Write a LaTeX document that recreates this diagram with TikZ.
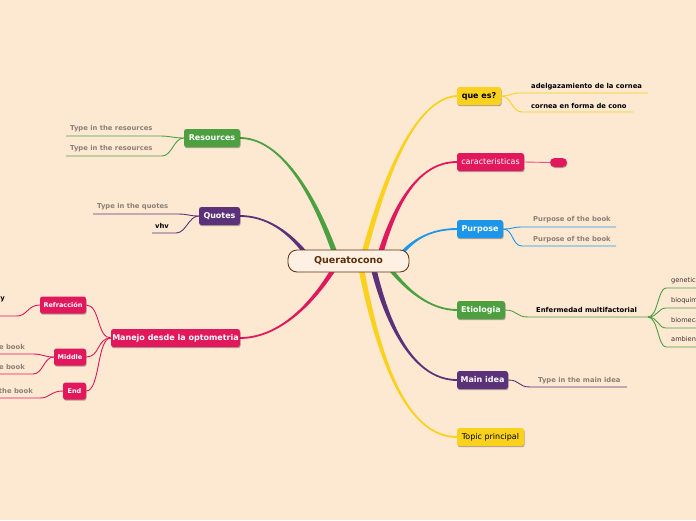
\documentclass[tikz,border=0pt]{standalone}
\usepackage{fontspec}
\setmainfont{DejaVu Sans}
\usetikzlibrary{calc,shadows}
\definecolor{bg}{RGB}{253,232,210}
\definecolor{cream}{RGB}{254,241,227}
\definecolor{brn}{RGB}{92,46,10}
\definecolor{yl}{RGB}{250,209,28}
\definecolor{pk}{RGB}{226,24,92}
\definecolor{bl}{RGB}{28,150,232}
\definecolor{gr}{RGB}{76,160,64}
\definecolor{pu}{RGB}{91,50,122}
\definecolor{gtxt}{RGB}{140,128,118}
\definecolor{dtxt}{RGB}{60,50,45}
% tapered branch: colour, start, c1, c2, end, sign
\newcommand\brch[6]{%
  \fill[#1] ($(#2)+(-2.9,0)$) .. controls ($(#3)+(-2.2,0)$) and ($(#4)+(0,{-1.0*(#6)})$) .. ($(#5)+(0,{-0.9*(#6)})$)
    -- ($(#5)+(0,{0.9*(#6)})$) .. controls ($(#4)+(0,{1.0*(#6)})$) and ($(#3)+(2.2,0)$) .. ($(#2)+(2.9,0)$) -- cycle;}
\tikzset{
  topic/.style={rounded corners=2.5pt, minimum height=18pt, inner sep=0pt,
    font=\fontsize{8}{9}\selectfont\bfseries, text=white,
    drop shadow={shadow xshift=0.6pt, shadow yshift=-1.2pt, opacity=0.3, fill=black}},
  small/.style={topic, minimum height=17pt, font=\fontsize{6.5}{7}\selectfont\bfseries},
  subt/.style={inner sep=0pt, anchor=west, font=\fontsize{6.8}{7.5}\selectfont\bfseries, text=gtxt},
  subr/.style={subt, anchor=east},
  leaf/.style={inner sep=0pt, anchor=west, font=\fontsize{6.6}{7.5}\selectfont, text=dtxt},
  conn/.style={line width=0.9pt},
}
\begin{document}
\begin{tikzpicture}[x=1pt,y=-1pt]
\fill[bg] (0,0) rectangle (696,520);
\useasboundingbox (0,0) rectangle (696,520);

% main branches
\brch{yl}{362,262}{388,160}{420,98}{457,96}{1}
\brch{pk}{378,262}{395,200}{420,162}{457,162}{1}
\brch{bl}{395,262}{410,240}{430,229}{457,229}{1}
\brch{gr}{385,262}{405,290}{430,310}{457,310}{-1}
\brch{pu}{372,262}{390,340}{420,380}{457,380}{-1}
\brch{yl}{360,262}{380,370}{410,437}{457,437}{-1}
\brch{gr}{338,262}{310,180}{275,138}{240,138}{-1}
\brch{pu}{312,262}{290,230}{265,216}{240,216}{-1}
\brch{pk}{338,262}{310,310}{275,338}{240,338}{1}

% central node
\node[draw=brn, line width=0.8pt, fill=cream, rounded corners=9pt, minimum width=121pt,
  minimum height=22pt, inner sep=0pt, font=\fontsize{9.5}{11}\selectfont\bfseries, text=brn]
  (root) at (348.5,261) {Queratocono};

% right topics
\node[topic, fill=yl, text=black, minimum width=44pt] (ques) at (479,96) {que es?};
\node[topic, fill=pk, minimum width=67pt, font=\fontsize{8}{9}\selectfont] (car) at (490.5,162) {caracteristicas};
\node[topic, fill=bl, minimum width=46pt] (purp) at (480,229) {Purpose};
\node[topic, fill=gr, minimum width=48pt] (etio) at (481,310) {Etiologia};
\node[topic, fill=pu, minimum width=51pt] (mainI) at (482.5,380) {Main idea};
\node[topic, fill=yl, text=black, minimum width=67pt, font=\fontsize{8}{9}\selectfont] (topicp) at (490.5,437) {Topic principal};

% left topics
\node[topic, fill=gr, minimum width=56pt] (res) at (212,138) {Resources};
\node[topic, fill=pu, minimum width=41pt] (quo) at (219.5,216) {Quotes};
\node[topic, fill=pk, minimum width=129pt] (man) at (175.5,338) {Manejo desde la optometria};
\node[small, fill=pk, minimum width=46pt] (refr) at (63,305) {Refracción};
\node[small, fill=pk, minimum width=32pt] (mid) at (70,357) {Middle};
\node[small, fill=pk, minimum width=23pt] (endn) at (74.5,391) {End};

% que es children
\coordinate (q1a) at (520,93); \coordinate (q1b) at (648,93);
\coordinate (q2a) at (522,112); \coordinate (q2b) at (633,112);
\draw[yl, conn] (ques.east) .. controls +(10,0) and +(-10,0) .. (q1a) -- (q1b);
\draw[yl, conn] (ques.east) .. controls +(10,0) and +(-10,0) .. (q2a) -- (q2b);
\node[subt, text=black] (q1) at (531,86.5) {adelgazamiento de la cornea};
\node[subt, text=black] (q2) at (531,105.5) {cornea en forma de cono};

% caracteristicas child
\node[fill=pk, rounded corners=4.5pt, minimum width=17pt, minimum height=9pt, inner sep=0pt,
  drop shadow={shadow xshift=0.5pt, shadow yshift=-1pt, opacity=0.3, fill=black}] (pill) at (558.5,162.5) {};
\draw[pk!75, conn] (car.east) -- (pill.west);

% purpose children
\coordinate (p1a) at (522,227); \coordinate (p1b) at (616,227);
\coordinate (p2a) at (522,246); \coordinate (p2b) at (616,246);
\draw[bl, conn] (purp.east) .. controls +(10,0) and +(-10,0) .. (p1a) -- (p1b);
\draw[bl, conn] (purp.east) .. controls +(10,0) and +(-10,0) .. (p2a) -- (p2b);
\node[subt] (p1) at (533,219.5) {Purpose of the book};
\node[subt] (p2) at (533,239.5) {Purpose of the book};

% etiologia children
\coordinate (e0a) at (528,317); \coordinate (e0b) at (648,317);
\draw[gr, conn] (etio.east) .. controls +(12,0) and +(-12,0) .. (e0a) -- (e0b);
\node[subt, text=black] (e0) at (536,309.5) {Enfermedad multifactorial};
\foreach \n/\y/\t in {g1/288/genetica, g2/308/bioquimica, g3/328/biomecanica, g4/347/ambiental}{
  \coordinate (\n a) at (666,\y); \coordinate (\n b) at (700,\y);
  \draw[gr, conn] (e0b) .. controls +(10,0) and +(-8,0) .. (\n a) -- (\n b);
  \node[leaf] (\n) at (671,\y-7.5) {\t};
}

% main idea child
\coordinate (m1a) at (530,387); \coordinate (m1b) at (627,387);
\draw[pu, conn] (mainI.east) .. controls +(12,0) and +(-12,0) .. (m1a) -- (m1b);
\node[subt] (m1) at (538,380.5) {Type in the main idea};

% resources children
\coordinate (r1a) at (160,136); \coordinate (r1b) at (66,136);
\coordinate (r2a) at (162,156); \coordinate (r2b) at (66,156);
\draw[gr, conn] (res.west) .. controls +(-10,0) and +(10,0) .. (r1a) -- (r1b);
\draw[gr, conn] (res.west) .. controls +(-10,0) and +(10,0) .. (r2a) -- (r2b);
\node[subt] (r1) at (70,128.5) {Type in the resources};
\node[subt] (r2) at (70,148.5) {Type in the resources};

% quotes children
\coordinate (o1a) at (178,214); \coordinate (o1b) at (93,214);
\coordinate (o2a) at (176,233); \coordinate (o2b) at (152,233);
\draw[pu, conn] (quo.west) .. controls +(-10,0) and +(10,0) .. (o1a) -- (o1b);
\draw[pu, conn] (quo.west) .. controls +(-10,0) and +(10,0) .. (o2a) -- (o2b);
\node[subt] (o1) at (97,206.5) {Type in the quotes};
\node[subt, text=black] (o2) at (155,225.5) {vhv};

% manejo children
\draw[pk, conn] (man.west) .. controls +(-14,0) and +(14,0) .. (refr.east);
\draw[pk, conn] (man.west) .. controls +(-14,0) and +(14,0) .. (mid.east);
\draw[pk, conn] (man.west) .. controls +(-14,0) and +(14,0) .. (endn.east);

\coordinate (f1a) at (17,316); \coordinate (f1b) at (-5,316);
\draw[pk, conn] (refr.west) .. controls +(-12,0) and +(10,0) .. (f1a) -- (f1b);
\node[subr, text=black] (f1) at (5,299) {Teoría y};

\coordinate (d1a) at (33,354); \coordinate (d1b) at (-5,354);
\coordinate (d2a) at (33,374); \coordinate (d2b) at (-5,374);
\draw[pk, conn] (mid.west) .. controls +(-10,0) and +(10,0) .. (d1a) -- (d1b);
\draw[pk, conn] (mid.west) .. controls +(-10,0) and +(10,0) .. (d2a) -- (d2b);
\node[subr] (d1) at (25,347) {Middle of the book};
\node[subr] (d2) at (25,367) {Middle of the book};

\coordinate (n1a) at (40,398); \coordinate (n1b) at (-5,398);
\draw[pk, conn] (endn.west) .. controls +(-12,0) and +(10,0) .. (n1a) -- (n1b);
\node[subr] (n1) at (33,391) {End of the book};
\end{tikzpicture}
\end{document}
